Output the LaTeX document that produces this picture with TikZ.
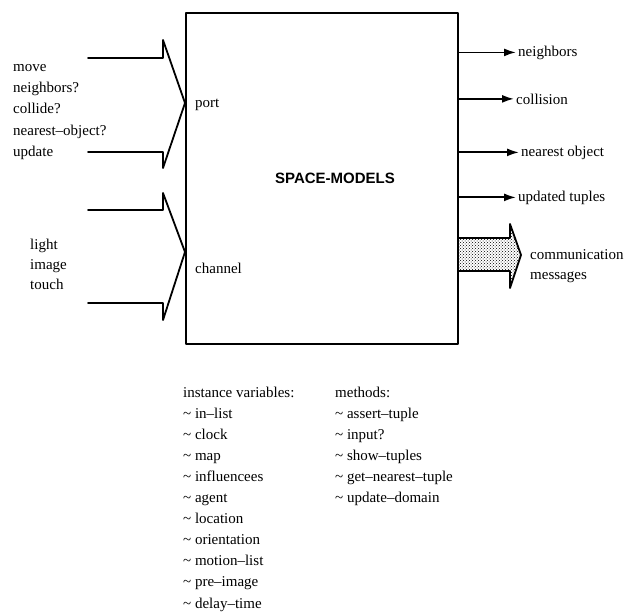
\documentclass[tikz,border=0pt]{standalone}
\usepackage{fontspec}
\setmainfont{Liberation Serif}
\setsansfont{Liberation Sans}
\usetikzlibrary{arrows.meta,patterns}

\tikzset{
  lbl/.style={anchor=base west, inner sep=2pt},
  io/.style={line width=1.8pt},
}

\begin{document}
\begin{tikzpicture}[x=1pt, y=-1pt, >={Latex[length=12pt,width=8pt]}, line cap=round, line join=round, font=\fontsize{15}{18}\selectfont]
			\def\tail{88}
			\def\neck{163}
			\useasboundingbox (0,0) rectangle (628,613);
			\node[draw, line width=1.8pt, inner sep=0, minimum width=272pt, minimum height=331pt, anchor=north west] (box) at (185,12) {};
			\node[font=\sffamily\bfseries\fontsize{15}{18}\selectfont] (title) at (335,178) {SPACE-MODELS};
			\node[lbl] (port) at (193,107) {port};
			\node[lbl] (channel) at (193,273) {channel};
			% inputs
			\draw[io] (\tail,58) -- (\neck,58) -- (\neck,40) -- (box.west |- 0,103) -- (\neck,168) -- (\neck,152) -- (\tail,152);
			\draw[io] (\tail,210) -- (\neck,210) -- (\neck,193) -- (box.west |- 0,252) -- (\neck,320) -- (\neck,303) -- (\tail,303);
			\foreach \t [count=\i] in {move,neighbors?,collide?,nearest--object?,update}
				\node[lbl] (pin\i) at (11,50+21.25*\i) {\t};
			\foreach \t [count=\i] in {light,image,touch}
				\node[lbl] (cin\i) at (28,229+20*\i) {\t};
			% outputs
			\node[lbl] (nbr) at (516,56) {neighbors};
			\node[lbl] (col) at (514,104) {collision};
			\node[lbl] (near) at (519,156) {nearest object};
			\node[lbl] (upd) at (516,201) {updated tuples};
			\foreach \n in {nbr,col,near,upd}
				\draw[io, ->] (box.east |- \n.west) -- (\n.west);
			\draw[io, pattern=crosshatch dots] (box.east |- 0,238) -- (510,238) -- (510,224) -- (521,255) -- (510,288) -- (510,271) -- (box.east |- 0,271);
			\node[lbl] (msg1) at (528,259) {communication};
			\node[lbl] (msg2) at (528,279) {messages};
			% lists
			\foreach \t [count=\i from 0] in {instance variables:,\textasciitilde\ in--list,\textasciitilde\ clock,\textasciitilde\ map,\textasciitilde\ influencees,\textasciitilde\ agent,\textasciitilde\ location,\textasciitilde\ orientation,\textasciitilde\ motion--list,\textasciitilde\ pre--image,\textasciitilde\ delay--time}
				\node[lbl] (var\i) at (181,397+21.1*\i) {\t};
			\foreach \t [count=\i from 0] in {methods:,\textasciitilde\ assert--tuple,\textasciitilde\ input?,\textasciitilde\ show--tuples,\textasciitilde\ get--nearest--tuple,\textasciitilde\ update--domain}
				\node[lbl] (meth\i) at (333,397+21.1*\i) {\t};
		\end{tikzpicture}
\end{document}
